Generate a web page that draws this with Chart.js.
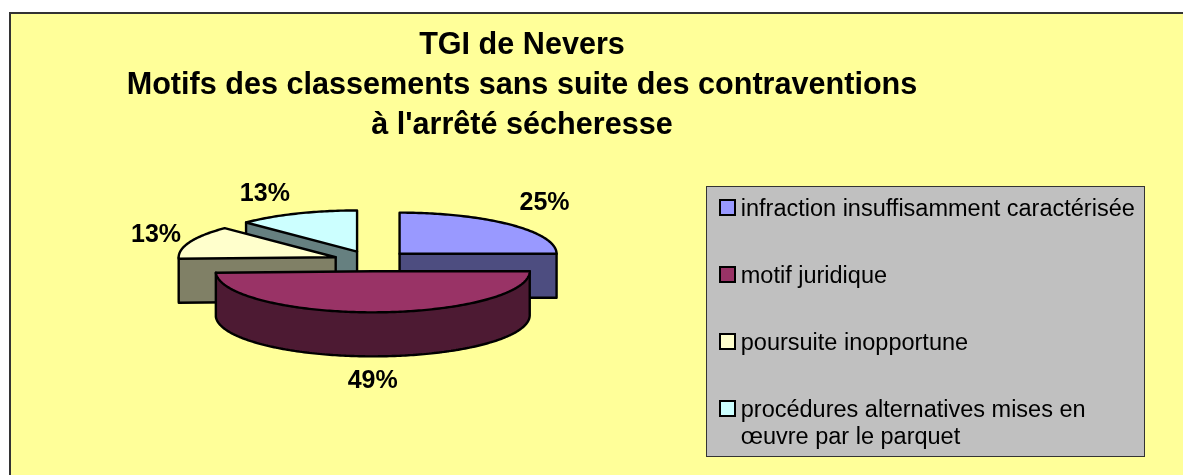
<!DOCTYPE html>
<html>
<head>
<meta charset="utf-8">
<title>TGI de Nevers</title>
<script src="https://cdn.jsdelivr.net/npm/chart.js@4"></script>
<style>
  html, body { margin: 0; padding: 0; background: #fff; overflow: hidden; }
  canvas { display: block; }
</style>
</head>
<body>
<canvas id="pieCanvas" width="1183" height="475"></canvas>
<script>
const titleLines = [
    'TGI de Nevers',
    'Motifs des classements sans suite des contraventions',
    "à l'arrêté sécheresse"
];
const categories = [
    'infraction insuffisamment caractérisée',
    'motif juridique',
    'poursuite inopportune',
    ['procédures alternatives mises en', 'œuvre par le parquet']
];
const percentages = [25, 49.4, 13.1, 12.5];
const topColors = ['#9999FF', '#993366', '#FFFFCC', '#CCFFFF'];
const sideColors = ['#4D4D80', '#4D1A33', '#808066', '#668080'];

const fontFamily = '"Liberation Sans", Arial, sans-serif';
const pieX = 372;
const pieY = 261;
const pieRadius = 157;
const squash = 0.262;
const explode = 39;
const depth = 44;
const edgeWidth = 2.4;
const drawOrder = [3, 2, 0, 1];
// label distance past the rim, horizontally and vertically
const labelGaps = [[48, 31], [-157, 69], [36, 19], [84, 21]];
const legendPad = 43.5;

function slicePoints(arc) {
    const mid = (arc.startAngle + arc.endAngle) / 2;
    const ex = Math.cos(mid) * explode;
    const ey = Math.sin(mid) * explode;
    const px = (r, a) => pieX + ex + r * Math.cos(a);
    const py = (r, a) => pieY + squash * (ey + r * Math.sin(a));
    const pts = [[px(0, 0), py(0, 0)]];
    const steps = Math.ceil((arc.endAngle - arc.startAngle) / (Math.PI / 180));
    for (let i = 0; i <= steps; i++) {
        const a = arc.startAngle + (arc.endAngle - arc.startAngle) * i / steps;
        pts.push([px(pieRadius, a), py(pieRadius, a)]);
    }
    return { pts, ex, ey, mid };
}

function drawSlice(ctx, arc, index) {
    const { pts, ex, ey } = slicePoints(arc);
    const n = pts.length;
    const isFront = i => pts[(i + 1) % n][0] - pts[i][0] < 0;

    ctx.lineJoin = 'round';
    ctx.lineCap = 'round';

    // side wall, all quads in one path so no seams show
    ctx.fillStyle = sideColors[index];
    ctx.beginPath();
    for (let i = 0; i < n; i++) {
        if (!isFront(i)) continue;
        const p = pts[i];
        const q = pts[(i + 1) % n];
        ctx.moveTo(p[0], p[1]);
        ctx.lineTo(q[0], q[1]);
        ctx.lineTo(q[0], q[1] + depth);
        ctx.lineTo(p[0], p[1] + depth);
        ctx.closePath();
    }
    ctx.fill();

    ctx.strokeStyle = '#000';
    ctx.lineWidth = edgeWidth;
    ctx.beginPath();
    for (let i = 0; i < n; i++) {
        const p = pts[i];
        const q = pts[(i + 1) % n];
        if (isFront(i)) {
            ctx.moveTo(p[0], p[1] + depth);
            ctx.lineTo(q[0], q[1] + depth);
        }
        if (isFront(i) !== isFront((i + n - 1) % n)) {
            ctx.moveTo(p[0], p[1]);
            ctx.lineTo(p[0], p[1] + depth);
        }
    }
    ctx.stroke();

    // top face, the library's own arc in a squashed context
    ctx.save();
    ctx.translate(0, pieY);
    ctx.scale(1, squash);
    ctx.translate(ex, ey - pieY);
    arc.draw(ctx);
    ctx.restore();

    ctx.beginPath();
    pts.forEach((p, i) => i ? ctx.lineTo(p[0], p[1]) : ctx.moveTo(p[0], p[1]));
    ctx.closePath();
    ctx.stroke();
}

function drawLabel(ctx, arc, index) {
    const { ex, ey, mid } = slicePoints(arc);
    const gap = labelGaps[index];
    const x = pieX + ex + Math.cos(mid) * (pieRadius + gap[0]);
    const y = pieY + squash * ey + Math.sin(mid) * (pieRadius * squash + gap[1]);
    ctx.fillStyle = '#000';
    ctx.font = 'bold 25px ' + fontFamily;
    ctx.textAlign = 'center';
    ctx.textBaseline = 'middle';
    const total = percentages.reduce((a, b) => a + b, 0);
    ctx.fillText(Math.round(percentages[index] / total * 100) + '%', x, y);
}

const pie3d = {
    id: 'pie3d',
    afterLayout(chart) {
        // title and legend sit where the reference has them, not where the layout puts them
        Object.assign(chart.titleBlock, { left: 20, right: 1024, top: 26, bottom: 146 });
        Object.assign(chart.legend, { left: 720 - legendPad, right: 1140, top: 198 - legendPad, bottom: 475 });
        Object.assign(chart.chartArea, {
            left: pieX - 200, right: pieX + 200, top: pieY - 200, bottom: pieY + 200,
            width: 400, height: 400
        });
    },
    beforeDraw(chart) {
        const ctx = chart.ctx;
        ctx.save();
        ctx.fillStyle = '#FFFF99';
        ctx.fillRect(10, 13, 1173, 462);
        ctx.strokeStyle = '#333';
        ctx.lineWidth = 2;
        ctx.beginPath();
        ctx.moveTo(10, 475);
        ctx.lineTo(10, 13);
        ctx.lineTo(1183, 13);
        ctx.stroke();
        ctx.fillStyle = '#C0C0C0';
        ctx.fillRect(707, 187, 437, 269);
        ctx.strokeStyle = '#333';
        ctx.lineWidth = 1;
        ctx.strokeRect(706.5, 186.5, 438, 270);
        ctx.restore();
    },
    beforeDatasetDraw() {
        return false;
    },
    afterDatasetsDraw(chart) {
        const ctx = chart.ctx;
        const arcs = chart.getDatasetMeta(0).data;
        ctx.save();
        drawOrder.forEach(i => drawSlice(ctx, arcs[i], i));
        drawOrder.forEach(i => drawLabel(ctx, arcs[i], i));
        ctx.restore();
    },
    afterDraw(chart) {
        // legend swatches: bigger than the gap the library leaves before the text
        const ctx = chart.ctx;
        ctx.save();
        ctx.lineWidth = 2;
        ctx.strokeStyle = '#000';
        topColors.forEach((color, i) => {
            ctx.fillStyle = color;
            ctx.fillRect(720, 200 + i * 67, 15, 15);
            ctx.strokeRect(720, 200 + i * 67, 15, 15);
        });
        ctx.restore();
    }
};

new Chart(document.getElementById('pieCanvas'), {
    type: 'pie',
    data: {
        labels: categories,
        datasets: [{
            data: percentages,
            backgroundColor: topColors,
            borderWidth: 0
        }]
    },
    options: {
        responsive: false,
        animation: false,
        radius: pieRadius,
        events: [],
        plugins: {
            title: {
                display: true,
                text: titleLines,
                color: '#000',
                font: { family: fontFamily, weight: 'bold', size: 30.6, lineHeight: 1.3 },
                padding: 0
            },
            legend: {
                display: true,
                position: 'right',
                align: 'start',
                labels: {
                    boxWidth: 9,
                    boxHeight: 9,
                    padding: legendPad,
                    color: '#000',
                    font: { family: fontFamily, size: 23.5, lineHeight: 1.15 },
                    generateLabels(chart) {
                        const items = Chart.overrides.pie.plugins.legend.labels.generateLabels(chart);
                        items.forEach(item => {
                            item.fillStyle = 'transparent';
                            item.lineWidth = 0;
                        });
                        return items;
                    }
                }
            },
            tooltip: { enabled: false }
        }
    },
    plugins: [pie3d]
});
</script>
</body>
</html>
